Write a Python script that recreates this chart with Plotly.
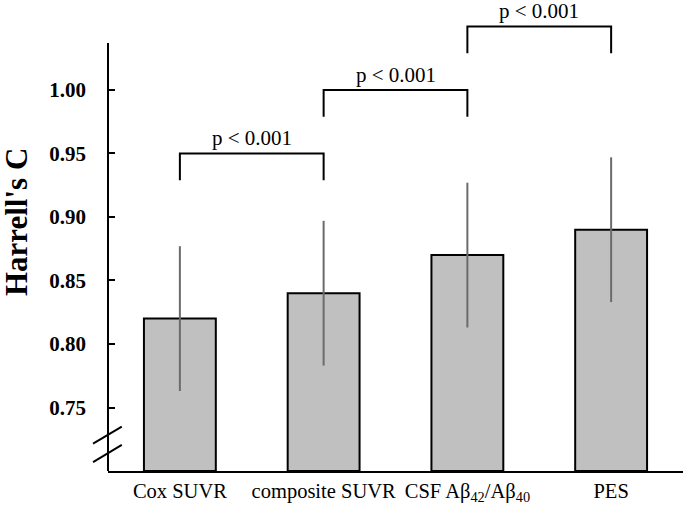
import plotly.graph_objects as go

categories = ["Cox SUVR", "composite SUVR", "CSF Aβ<sub>42</sub>/Aβ<sub>40</sub>", "PES"]
harrells_c = [0.82, 0.84, 0.87, 0.89]
ci_half = [0.057, 0.057, 0.057, 0.057]
tick_vals = [0.75, 0.80, 0.85, 0.90, 0.95, 1.00]
tick_text = ["0.75", "0.80", "0.85", "0.90", "0.95", "1.00"]
# comparisons: (left bar index, right bar index, bracket level, label)
comparisons = [(0, 1, 0.95, "p < 0.001"), (1, 2, 1.00, "p < 0.001"), (2, 3, 1.05, "p < 0.001")]
bracket_drop = 0.021
y_min, y_axis_top, y_plot_top = 0.70, 1.037, 1.0677
SERIF = "Liberation Serif, Times New Roman, Times, serif"

x = list(range(len(categories)))
fig = go.Figure()
fig.add_trace(go.Bar(
    x=x, y=[v - y_min for v in harrells_c], base=y_min, width=0.5,
    marker=dict(color="#c0c0c0", line=dict(color="black", width=2)),
    error_y=dict(type="data", array=ci_half, color="#6b6b6b", thickness=2, width=0),
    showlegend=False, hoverinfo="skip",
))

shapes = []
# y axis line (stops below the brackets)
shapes.append(dict(type="line", xref="paper", yref="y", x0=0, x1=0, y0=y_min, y1=y_axis_top,
                   line=dict(color="black", width=2)))
# axis break marks
for yb in (0.7215, 0.707):
    shapes.append(dict(type="line", xref="paper", yref="y", x0=-0.026, x1=0.024,
                       y0=yb, y1=yb + 0.0135, line=dict(color="black", width=2)))
annotations = []
for a, b, lvl, lab in comparisons:
    shapes.append(dict(type="path", xref="x", yref="y",
                       path=f"M {a},{lvl - bracket_drop} L {a},{lvl} L {b},{lvl} L {b},{lvl - bracket_drop}",
                       line=dict(color="black", width=2)))
    annotations.append(dict(x=(a + b) / 2, y=lvl, xref="x", yref="y", text=lab, showarrow=False,
                            yanchor="bottom", yshift=1,
                            font=dict(family=SERIF, size=21, color="black")))
annotations.append(dict(x=0, y=0.533, xref="paper", yref="paper", xshift=-92, text="<b>Harrell's C</b>",
                        textangle=-90, showarrow=False, xanchor="center", yanchor="middle",
                        font=dict(family=SERIF, size=31, color="black")))

fig.update_layout(
    width=685, height=505, margin=dict(l=108, r=2, t=4, b=34),
    plot_bgcolor="white", paper_bgcolor="white",
    shapes=shapes, annotations=annotations, bargap=0.5,
    xaxis=dict(range=[-0.5, 3.5], tickvals=x, ticktext=categories, showline=True, linecolor="black",
               linewidth=2, ticks="", showgrid=False, zeroline=False, ticklabelstandoff=0,
               automargin=False,
               tickfont=dict(family=SERIF, size=20.5, color="black")),
    yaxis=dict(range=[y_min, y_plot_top], tickvals=tick_vals, ticktext=[f"<b>{t}</b>" for t in tick_text],
               showline=False, ticks="inside", ticklen=7, tickwidth=2, tickcolor="black",
               showgrid=False, zeroline=False, ticklabelstandoff=21, automargin=False,
               tickfont=dict(family=SERIF, size=21, color="black")),
)
fig.write_html("out.html", config={"displayModeBar": False},
               post_script="document.body.style.margin='0';document.body.style.overflow='hidden';")
